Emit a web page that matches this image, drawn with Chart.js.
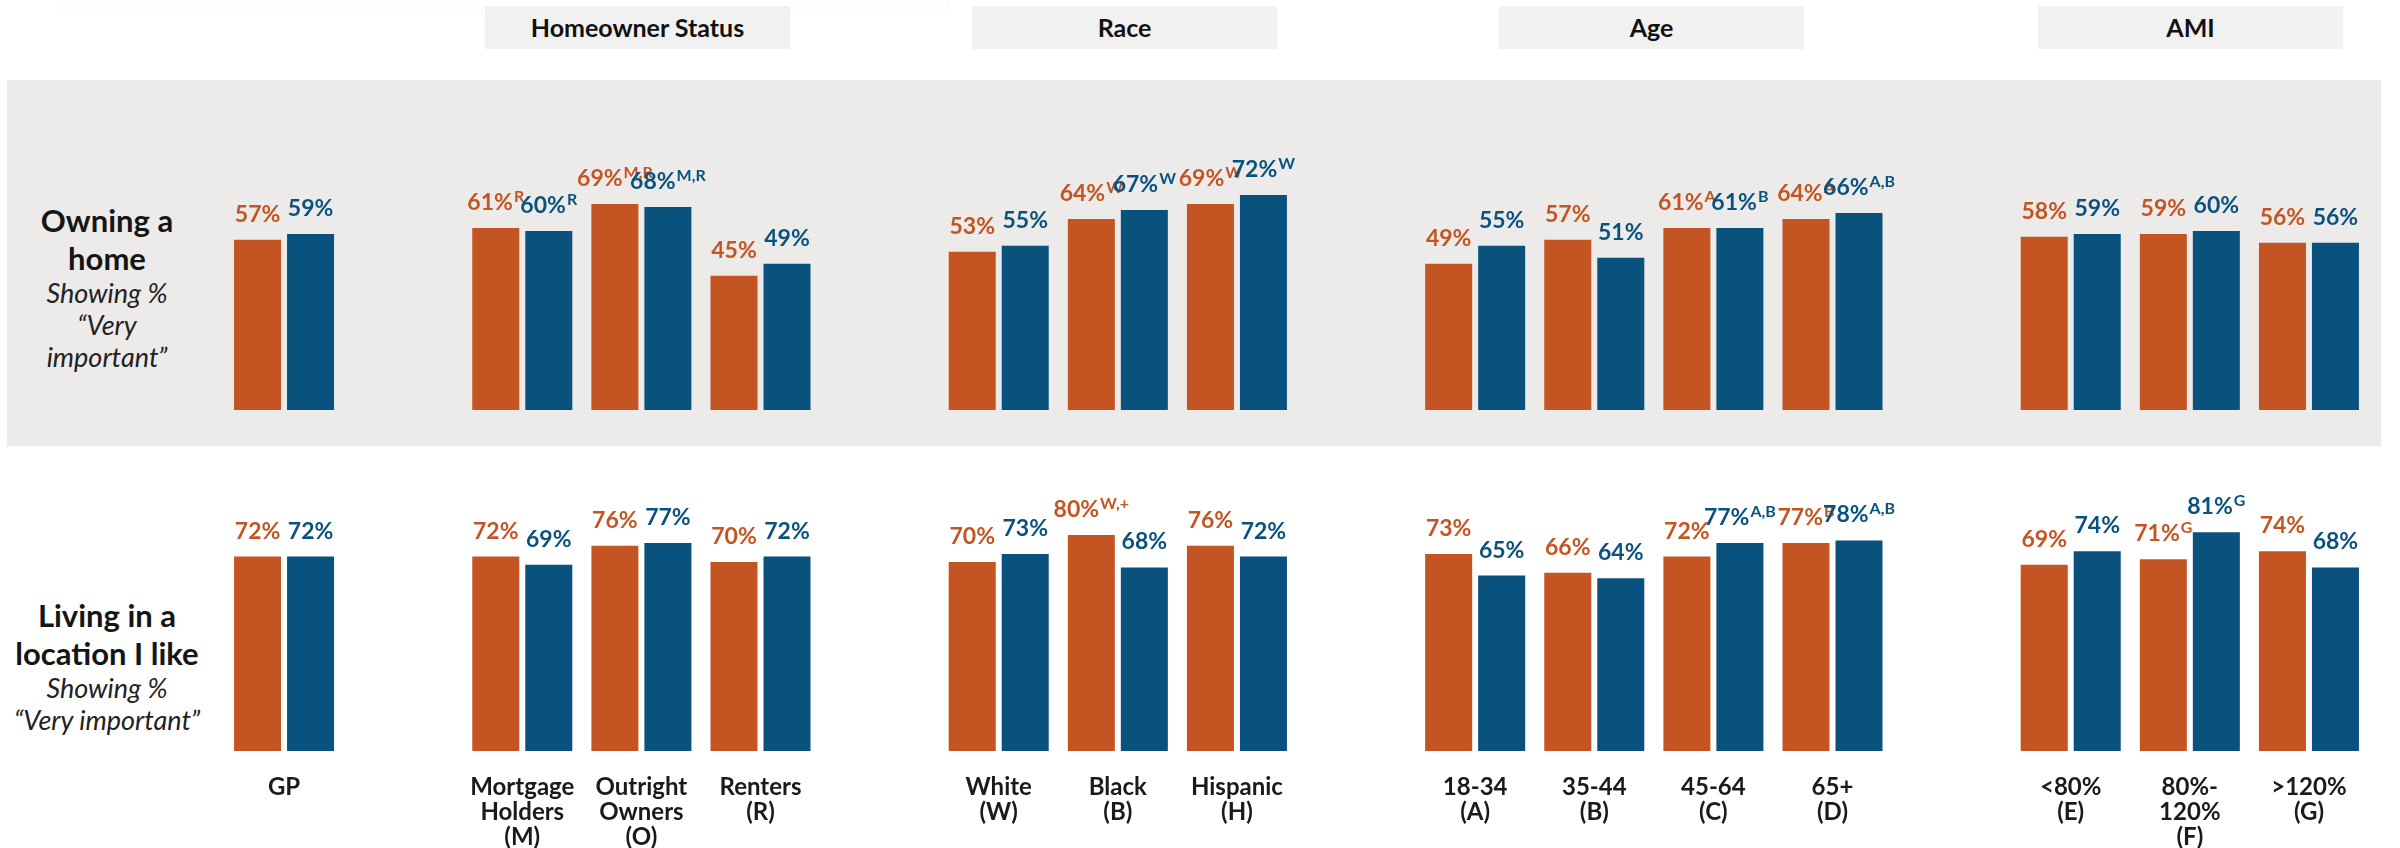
<!DOCTYPE html>
<html>
<head>
<meta charset="utf-8">
<script src="https://cdn.jsdelivr.net/npm/chart.js@4.4.1/dist/chart.umd.min.js"></script>
<style>
  body { margin: 0; width: 2400px; height: 848px; background: #fff; position: relative; overflow: hidden; font-family: Lato, "Noto Sans", sans-serif; }
  .faint { position: absolute; left: 61px; top: -20px; width: 886px; height: 34px; border: 1px solid #fbfbfb; background: #fefefe; }
  .panel { position: absolute; left: 7px; top: 80px; width: 2374px; height: 366px; background: #ecebe9; }
  .head { position: absolute; top: 6px; width: 305px; height: 43px; background: #f1f1f1; color: #111; font-weight: 700; font-size: 25px; line-height: 43px; text-align: center; }
  .rowlab { position: absolute; left: 0; width: 214px; text-align: center; color: #151515; }
  .rowlab .b { font-weight: 700; font-size: 31px; line-height: 38px; }
  .rowlab .i { font-style: italic; font-size: 27px; line-height: 32px; color: #222; }
  canvas { position: absolute; left: 0; }
</style>
</head>
<body>
<div class="faint"></div>
<div class="panel"></div>
<div id="heads"></div>
<div class="rowlab" style="top:201px"><div class="b">Owning a<br>home</div><div class="i">Showing %<br>“Very<br>important”</div></div>
<div class="rowlab" style="top:596px"><div class="b">Living in a<br>location I like</div><div class="i">Showing %<br>“Very important”</div></div>
<canvas id="homeChart" width="2400" height="366" style="top:80px"></canvas>
<canvas id="locationChart" width="2400" height="402" style="top:446px"></canvas>
<script>
// 見出し
const groupTitles = ['Homeowner Status', 'Race', 'Age', 'AMI'];
const groupLeft = [485, 972, 1499, 2038];

// カテゴリ（空文字はグループ間のすき間）
const categories = [
  ['GP'], '',
  ['Mortgage', 'Holders', '(M)'], ['Outright', 'Owners', '(O)'], ['Renters', '(R)'], '',
  ['White', '(W)'], ['Black', '(B)'], ['Hispanic', '(H)'], '',
  ['18-34', '(A)'], ['35-44', '(B)'], ['45-64', '(C)'], ['65+', '(D)'], '',
  ['<80%', '(E)'], ['80%-', '120%', '(F)'], ['>120%', '(G)']
];

// 持ち家（Very important %）
const homeOrange = [57, null, 61, 69, 45, null, 53, 64, 69, null, 49, 57, 61, 64, null, 58, 59, 56];
const homeBlue   = [59, null, 60, 68, 49, null, 55, 67, 72, null, 55, 51, 61, 66, null, 59, 60, 56];
const homeOrangeSup = ['', '', 'R', 'M,R', '', '', '', 'W', 'W', '', '', '', 'A', 'A', '', '', '', ''];
const homeBlueSup   = ['', '', 'R', 'M,R', '', '', '', 'W', 'W', '', '', '', 'B', 'A,B', '', '', '', ''];

// 好きな場所に住む（Very important %）
const locOrange = [72, null, 72, 76, 70, null, 70, 80, 76, null, 73, 66, 72, 77, null, 69, 71, 74];
const locBlue   = [72, null, 69, 77, 72, null, 73, 68, 72, null, 65, 64, 77, 78, null, 74, 81, 68];
const locOrangeSup = ['', '', '', '', '', '', '', 'W,+', '', '', '', '', '', 'B', '', '', 'G', ''];
const locBlueSup   = ['', '', '', '', '', '', '', '', '', '', '', '', 'A,B', 'A,B', '', '', 'G', ''];

const ORANGE = '#c45422';
const BLUE = '#0a527e';

// 見出しボックス
groupTitles.forEach((t, i) => {
  const d = document.createElement('div');
  d.className = 'head';
  d.style.left = groupLeft[i] + 'px';
  d.textContent = t;
  document.getElementById('heads').appendChild(d);
});

// 値ラベル（上付き文字つき）
const valueLabels = {
  id: 'valueLabels',
  afterDatasetsDraw(chart) {
    const ctx = chart.ctx;
    ctx.save();
    chart.data.datasets.forEach((ds, di) => {
      const meta = chart.getDatasetMeta(di);
      meta.data.forEach((bar, i) => {
        const v = ds.data[i];
        if (v == null) return;
        const main = v + '%';
        const sup = ds.sup[i] || '';
        ctx.font = 'bold 23px Lato';
        const wm = ctx.measureText(main).width;
        ctx.font = 'bold 16px Lato';
        const ws = sup ? ctx.measureText(sup).width + 1 : 0;
        const x0 = bar.x - (wm + ws) / 2;
        const y0 = bar.y - 18;
        ctx.fillStyle = ds.backgroundColor;
        ctx.textAlign = 'left';
        ctx.textBaseline = 'alphabetic';
        ctx.font = 'bold 23px Lato';
        ctx.fillText(main, x0, y0);
        if (sup) {
          ctx.font = 'bold 16px Lato';
          ctx.fillText(sup, x0 + wm + 1, y0 - 8);
        }
      });
    });
    ctx.restore();
  }
};

function makeChart(id, orange, blue, orangeSup, blueSup, pad, showTicks) {
  const xScale = {
    display: showTicks,
    grid: { display: false, drawTicks: false },
    border: { display: false },
    ticks: {
      autoSkip: false, maxRotation: 0, padding: 23.5,
      color: '#1a1a1a',
      font: { family: 'Lato', weight: 'bold', size: 24, lineHeight: '25px' }
    }
  };
  // 下の段だけラベル領域の高さを固定
  if (showTicks) xScale.afterFit = s => { s.height = 97; };

  return new Chart(document.getElementById(id), {
    type: 'bar',
    data: {
      labels: categories,
      datasets: [
        { label: 'orange', data: orange, sup: orangeSup, backgroundColor: ORANGE },
        { label: 'blue', data: blue, sup: blueSup, backgroundColor: BLUE }
      ]
    },
    options: {
      responsive: false,
      animation: false,
      devicePixelRatio: 1,
      categoryPercentage: 0.89,
      barPercentage: 0.887,
      layout: { padding: pad },
      plugins: { legend: { display: false }, tooltip: { enabled: false } },
      scales: {
        x: xScale,
        y: { display: false, min: 0, max: 100 }
      }
    },
    plugins: [valueLabels]
  });
}

makeChart('homeChart', homeOrange, homeBlue, homeOrangeSup, homeBlueSup,
  { left: 224.5, right: 31.5, top: 31.5, bottom: 36 }, false);
makeChart('locationChart', locOrange, locBlue, locOrangeSup, locBlueSup,
  { left: 224.5, right: 31.5, top: 35, bottom: 0 }, true);
</script>
</body>
</html>
